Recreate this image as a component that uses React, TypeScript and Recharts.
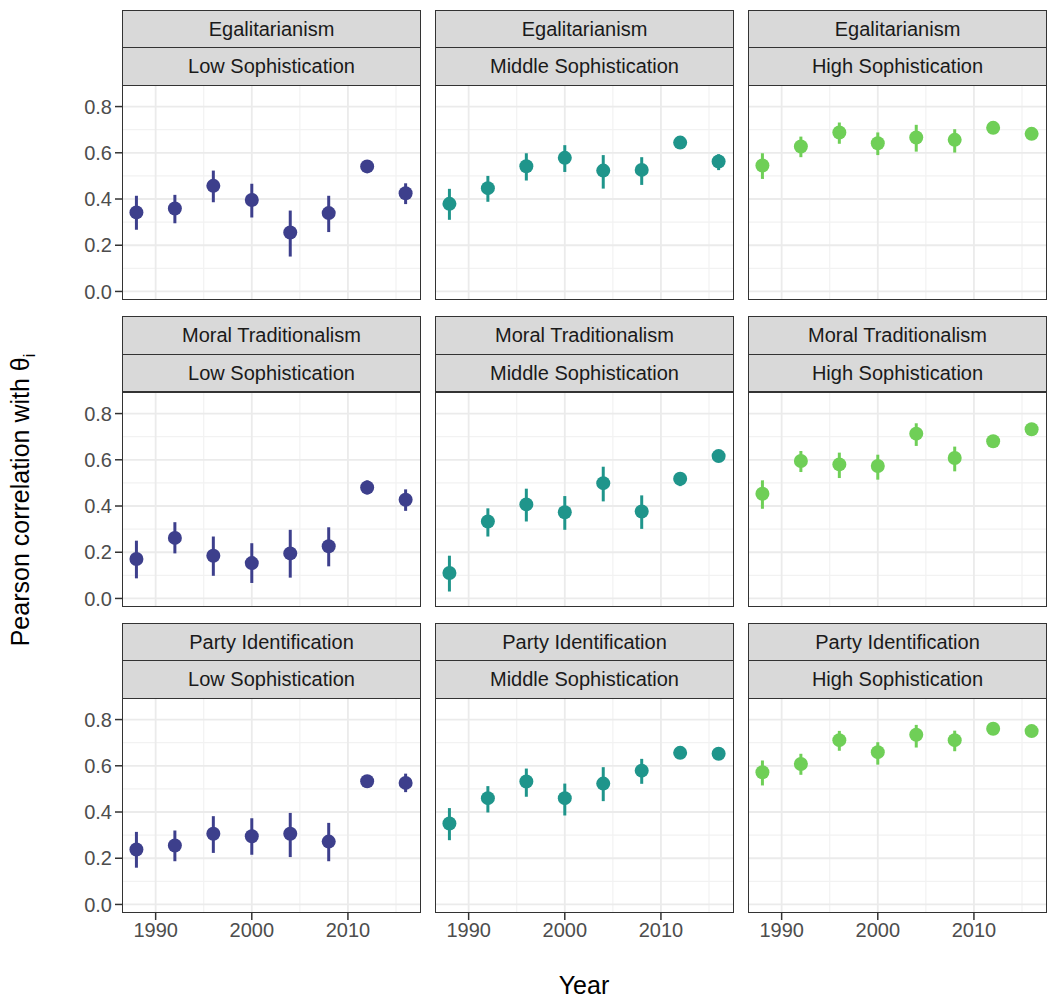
import { ScatterChart, Scatter, XAxis, YAxis, ErrorBar, ReferenceLine } from 'recharts'

const years = [1988, 1992, 1996, 2000, 2004, 2008, 2012, 2016]
const topics = ['Egalitarianism', 'Moral Traditionalism', 'Party Identification']
const levels = ['Low Sophistication', 'Middle Sophistication', 'High Sophistication']
const levelColors = ['#3d3f8c', '#1f958b', '#6fcf57']

const yTicks = [0, 0.2, 0.4, 0.6, 0.8]
const yMinor = [0.1, 0.3, 0.5, 0.7]
const xTicks = [1990, 2000, 2010]
const xMinor = [1995, 2005, 2015]

// estimates and [lower, upper] intervals per panel
const egalLow = [0.342, 0.359, 0.457, 0.396, 0.255, 0.339, 0.541, 0.425]
const egalLowCI = [[0.267, 0.414], [0.295, 0.418], [0.386, 0.523], [0.32, 0.466], [0.151, 0.35], [0.257, 0.414], [0.515, 0.562], [0.378, 0.468]]
const egalMid = [0.379, 0.447, 0.542, 0.578, 0.523, 0.526, 0.644, 0.562]
const egalMidCI = [[0.31, 0.444], [0.388, 0.5], [0.48, 0.598], [0.517, 0.633], [0.445, 0.59], [0.461, 0.581], [0.624, 0.663], [0.525, 0.594]]
const egalHigh = [0.545, 0.627, 0.688, 0.641, 0.666, 0.656, 0.708, 0.682]
const egalHighCI = [[0.487, 0.598], [0.581, 0.67], [0.639, 0.731], [0.59, 0.688], [0.605, 0.721], [0.601, 0.702], [0.683, 0.732], [0.656, 0.706]]

const moralLow = [0.171, 0.262, 0.185, 0.153, 0.195, 0.226, 0.48, 0.427]
const moralLowCI = [[0.087, 0.25], [0.195, 0.33], [0.098, 0.268], [0.067, 0.239], [0.09, 0.297], [0.139, 0.308], [0.45, 0.511], [0.379, 0.472]]
const moralMid = [0.11, 0.333, 0.407, 0.373, 0.499, 0.376, 0.518, 0.616]
const moralMidCI = [[0.03, 0.185], [0.268, 0.39], [0.333, 0.475], [0.297, 0.443], [0.42, 0.57], [0.301, 0.446], [0.486, 0.547], [0.59, 0.641]]
const moralHigh = [0.453, 0.595, 0.58, 0.573, 0.713, 0.608, 0.68, 0.732]
const moralHighCI = [[0.388, 0.511], [0.547, 0.638], [0.521, 0.631], [0.514, 0.622], [0.66, 0.758], [0.55, 0.657], [0.655, 0.703], [0.709, 0.752]]

const partyLow = [0.238, 0.255, 0.306, 0.295, 0.306, 0.272, 0.533, 0.526]
const partyLowCI = [[0.159, 0.314], [0.187, 0.32], [0.223, 0.382], [0.215, 0.373], [0.205, 0.396], [0.187, 0.353], [0.505, 0.558], [0.486, 0.566]]
const partyMid = [0.35, 0.46, 0.532, 0.46, 0.523, 0.579, 0.656, 0.652]
const partyMidCI = [[0.278, 0.417], [0.398, 0.512], [0.466, 0.588], [0.385, 0.523], [0.447, 0.594], [0.522, 0.63], [0.631, 0.677], [0.627, 0.673]]
const partyHigh = [0.572, 0.608, 0.711, 0.659, 0.734, 0.711, 0.76, 0.75]
const partyHighCI = [[0.515, 0.623], [0.561, 0.652], [0.665, 0.751], [0.605, 0.702], [0.679, 0.777], [0.663, 0.752], [0.739, 0.778], [0.731, 0.768]]

const panels = [
  [[egalLow, egalLowCI], [egalMid, egalMidCI], [egalHigh, egalHighCI]],
  [[moralLow, moralLowCI], [moralMid, moralMidCI], [moralHigh, moralHighCI]],
  [[partyLow, partyLowCI], [partyMid, partyMidCI], [partyHigh, partyHighCI]],
]

const FONT = '"Liberation Sans", Arial, sans-serif'
const colLeft = [122, 435, 748]
const panelW = 299
const panelTop = [86, 392.5, 699]
const panelH = 214
const stripH = 39
const yAxisW = 82
const xAxisH = 50
const padBottom = 14

function Panel({ row, col }: { row: number; col: number }) {
  const [est, ci] = panels[row][col] as [number[], number[][]]
  const data = years.map((year, i) => ({
    year,
    r: est[i],
    err: [est[i] - ci[i][0], ci[i][1] - est[i]],
  }))
  const color = levelColors[col]
  const showY = col === 0
  const showX = row === 2
  const left = colLeft[col] - (showY ? yAxisW : 0)
  const width = panelW + (showY ? yAxisW : 0)
  const height = panelH + (showX ? xAxisH : padBottom)
  const tickStyle = { fontSize: 20, fill: '#4d4d4d', fontFamily: FONT }

  return (
    <div style={{ position: 'absolute', left, top: panelTop[row] }}>
      <ScatterChart
        width={width}
        height={height}
        margin={{ top: 0, right: 0, bottom: showX ? 0 : padBottom, left: 0 }}
      >
        <XAxis
          type="number"
          dataKey="year"
          domain={[1986.5, 2017.6]}
          allowDataOverflow
          ticks={xTicks}
          interval={0}
          hide={!showX}
          height={xAxisH}
          tick={tickStyle}
          tickSize={7}
          tickMargin={3}
          axisLine={false}
          tickLine={{ stroke: '#333', strokeWidth: 1.5 }}
        />
        <YAxis
          type="number"
          dataKey="r"
          domain={[-0.037, 0.889]}
          allowDataOverflow
          ticks={yTicks}
          interval={0}
          hide={!showY}
          width={yAxisW}
          tick={tickStyle}
          tickFormatter={(v: number) => v.toFixed(1)}
          tickSize={7}
          tickMargin={3}
          axisLine={false}
          tickLine={{ stroke: '#333', strokeWidth: 1.5 }}
        />
        {yMinor.map((v) => (
          <ReferenceLine key={`ym${v}`} y={v} stroke="#f2f2f2" strokeWidth={1.2} />
        ))}
        {xMinor.map((v) => (
          <ReferenceLine key={`xm${v}`} x={v} stroke="#f2f2f2" strokeWidth={1.2} />
        ))}
        {yTicks.map((v) => (
          <ReferenceLine key={`y${v}`} y={v} stroke="#ebebeb" strokeWidth={1.8} />
        ))}
        {xTicks.map((v) => (
          <ReferenceLine key={`x${v}`} x={v} stroke="#ebebeb" strokeWidth={1.8} />
        ))}
        <Scatter
          data={data}
          fill={color}
          isAnimationActive={false}
          shape={(p: any) => <circle cx={p.cx} cy={p.cy} r={7} fill={color} />}
        >
          <ErrorBar dataKey="err" direction="y" width={0} stroke={color} strokeWidth={3} />
        </Scatter>
      </ScatterChart>
    </div>
  )
}

function Strip({ text, left, top }: { text: string; left: number; top: number }) {
  return (
    <div
      style={{
        position: 'absolute',
        left,
        top,
        width: panelW,
        height: stripH,
        boxSizing: 'border-box',
        background: '#d9d9d9',
        border: '1.5px solid #333',
        display: 'flex',
        alignItems: 'center',
        justifyContent: 'center',
        fontSize: 20,
        color: '#1a1a1a',
        fontFamily: FONT,
      }}
    >
      {text}
    </div>
  )
}

export default function App() {
  return (
    <div style={{ position: 'relative', width: 1048, height: 1000, background: '#fff', fontFamily: FONT }}>
      <style>{'body{margin:0}'}</style>
      {topics.map((topic, row) =>
        levels.map((level, col) => (
          <div key={`${row}-${col}`}>
            <Strip text={topic} left={colLeft[col]} top={panelTop[row] - 2 * stripH + 1.5} />
            <Strip text={level} left={colLeft[col]} top={panelTop[row] - stripH} />
            <Panel row={row} col={col} />
            <div
              style={{
                position: 'absolute',
                left: colLeft[col],
                top: panelTop[row] - 1.5,
                width: panelW,
                height: panelH + 1.5,
                boxSizing: 'border-box',
                border: '1.5px solid #333',
                pointerEvents: 'none',
              }}
            />
          </div>
        ))
      )}
      <div
        style={{
          position: 'absolute',
          left: 22,
          top: 500,
          transform: 'translate(-50%, -50%) rotate(-90deg)',
          whiteSpace: 'nowrap',
          fontSize: 25,
          color: '#000',
        }}
      >
        Pearson correlation with θ<sub style={{ fontSize: 16 }}>i</sub>
      </div>
      <div
        style={{
          position: 'absolute',
          left: 584,
          top: 985,
          transform: 'translate(-50%, -50%)',
          fontSize: 25,
          color: '#000',
        }}
      >
        Year
      </div>
    </div>
  )
}
